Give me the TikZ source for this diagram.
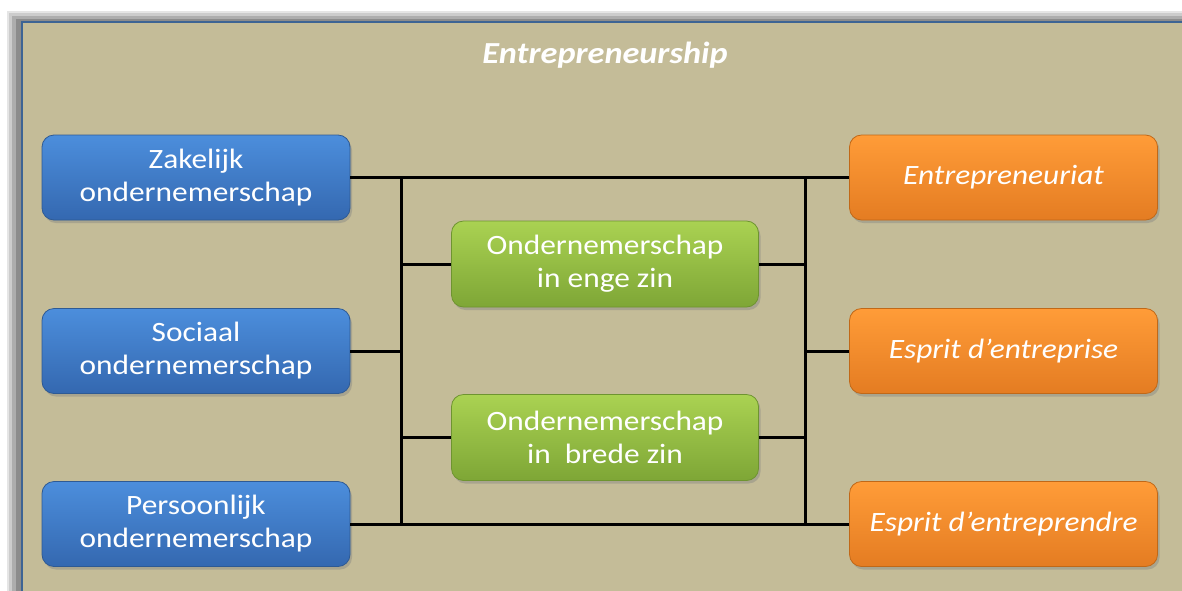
\documentclass[tikz,border=0pt]{standalone}
\usepackage{fontspec}
\setmainfont{Carlito}[FakeStretch=1.12]
\usetikzlibrary{shadows}
\definecolor{tan}{HTML}{C4BC98}
\definecolor{frameblue}{HTML}{3D6494}
\definecolor{bluetop}{HTML}{4C8EDC}
\definecolor{bluebot}{HTML}{3468B0}
\definecolor{blueedge}{HTML}{2E5A94}
\definecolor{orangetop}{HTML}{FF9C38}
\definecolor{orangebot}{HTML}{E47C22}
\definecolor{orangeedge}{HTML}{C06818}
\definecolor{greentop}{HTML}{AAD252}
\definecolor{greenbot}{HTML}{7EA636}
\definecolor{greenedge}{HTML}{6E9430}
\begin{document}
\begin{tikzpicture}[x=0.5pt,y=-0.5pt,
  box/.style={rounded corners=6pt, minimum width=154pt, minimum height=42.5pt,
    inner sep=0pt, text=white, align=center, line width=0.4pt,
    font=\fontsize{14}{16.5}\selectfont,
    execute at begin node={\vspace*{3pt}},
    drop shadow={shadow xshift=1pt, shadow yshift=-1.5pt, opacity=0.4}},
  bluebox/.style={box, top color=bluetop, bottom color=bluebot, draw=blueedge},
  orangebox/.style={box, top color=orangetop, bottom color=orangebot, draw=orangeedge,
    font=\fontsize{14}{16.5}\selectfont\itshape},
  greenbox/.style={box, minimum width=153.5pt, minimum height=43pt,
    top color=greentop, bottom color=greenbot, draw=greenedge},
  link/.style={draw=black, line width=1.5pt},
  title/.style={text=white, font=\fontsize{15.3}{18}\selectfont\bfseries\itshape}]
\useasboundingbox (0,0) rectangle (1182,590);
\begin{scope}
\clip (0,0) rectangle (1182,590);
\fill[white] (0,0) rectangle (1182,590);
\fill[black!10] (7,11) rectangle (1200,600);
\fill[black!20] (9,13) rectangle (1200,600);
\fill[black!32] (12,16) rectangle (1200,600);
\fill[black!45] (16,19) rectangle (1200,600);
\filldraw[fill=tan, draw=frameblue, line width=1.4pt] (22,22) rectangle (1200,600);
\end{scope}

\node[title] (t) at (605,55) {Entrepreneurship};

\node[bluebox] (zak) at (196,177.5) {Zakelijk\\ondernemerschap};
\node[bluebox] (soc) at (196,351) {Sociaal\\ondernemerschap};
\node[bluebox] (pers) at (196,524) {Persoonlijk\\ondernemerschap};

\node[orangebox] (ent) at (1003.5,177.5) {Entrepreneuriat};
\node[orangebox] (espe) at (1003.5,351) {Esprit d’entreprise};
\node[orangebox] (espr) at (1003.5,524) {Esprit d’entreprendre};

\node[greenbox] (g1) at (605,264) {Ondernemerschap\\in enge zin};
\node[greenbox] (g2) at (605,437.5) {Ondernemerschap\\in\ \ brede zin};

\coordinate (bl1) at (401,177.5);
\coordinate (bl2) at (401,524);
\coordinate (br1) at (805,177.5);
\coordinate (br2) at (805,524);

\draw[link] (zak.east) -- (ent.west);
\draw[link] (pers.east) -- (espr.west);
\draw[link] (bl1) -- (bl2);
\draw[link] (br1) -- (br2);
\draw[link] (soc.east) -- (soc.east -| bl1);
\draw[link] (espe.west) -- (espe.west -| br1);
\draw[link] (g1.west -| bl1) -- (g1.west);
\draw[link] (g1.east) -- (g1.east -| br1);
\draw[link] (g2.west -| bl1) -- (g2.west);
\draw[link] (g2.east) -- (g2.east -| br1);
\end{tikzpicture}
\end{document}
